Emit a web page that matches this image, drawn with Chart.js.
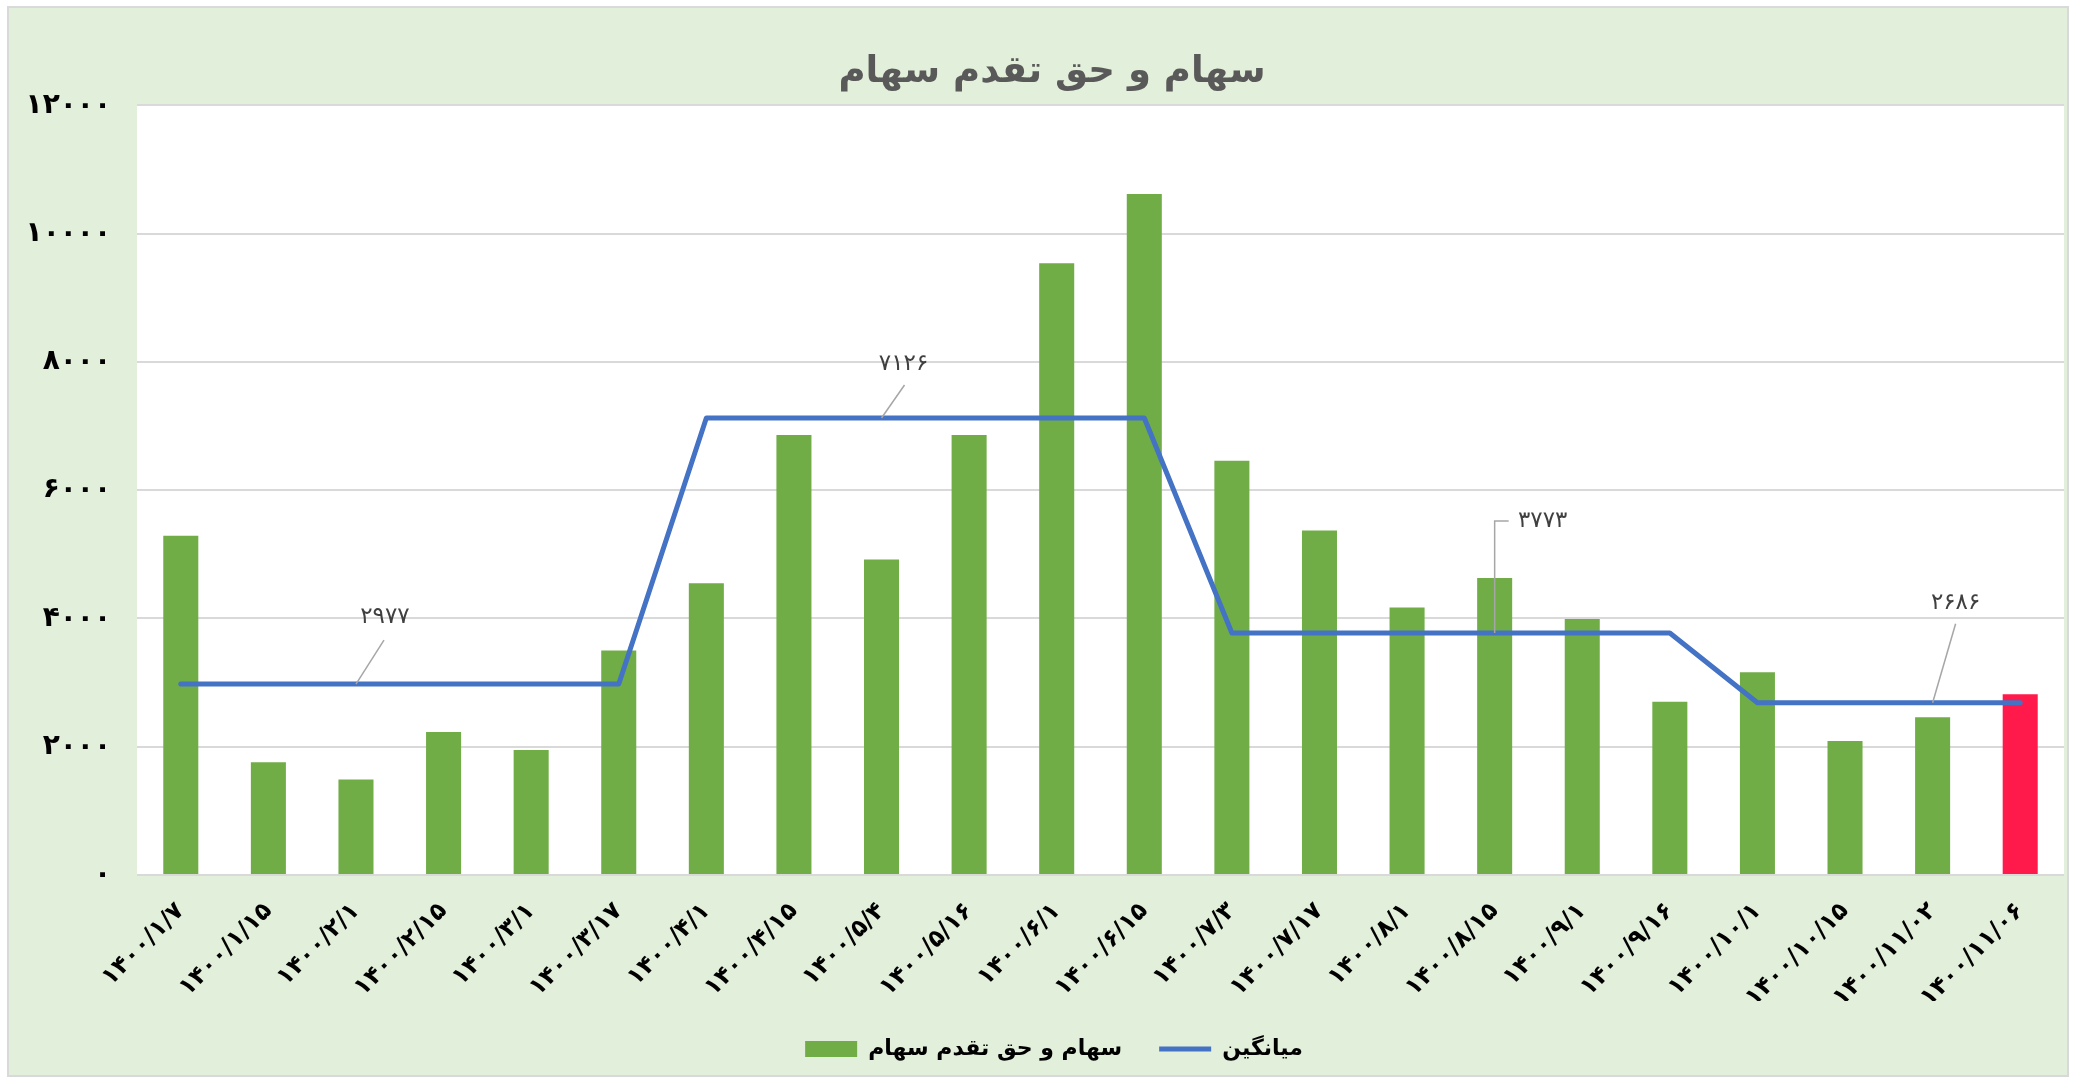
<!DOCTYPE html>
<html>
<head>
<meta charset="utf-8">
<script src="https://cdn.jsdelivr.net/npm/chart.js@4.4.1/dist/chart.umd.min.js"></script>
<style>
    html, body { margin: 0; padding: 0; background: #ffffff; }
</style>
</head>
<body>
<canvas id="saham_chart" width="2074" height="1081"></canvas>
<script>
// -------------------
// DATA
// -------------------
var dateLabels = [
    '۱۴۰۰/۱/۷', '۱۴۰۰/۱/۱۵', '۱۴۰۰/۲/۱', '۱۴۰۰/۲/۱۵', '۱۴۰۰/۳/۱', '۱۴۰۰/۳/۱۷',
    '۱۴۰۰/۴/۱', '۱۴۰۰/۴/۱۵', '۱۴۰۰/۵/۴', '۱۴۰۰/۵/۱۶', '۱۴۰۰/۶/۱', '۱۴۰۰/۶/۱۵',
    '۱۴۰۰/۷/۳', '۱۴۰۰/۷/۱۷', '۱۴۰۰/۸/۱', '۱۴۰۰/۸/۱۵', '۱۴۰۰/۹/۱', '۱۴۰۰/۹/۱۶',
    '۱۴۰۰/۱۰/۱', '۱۴۰۰/۱۰/۱۵', '۱۴۰۰/۱۱/۰۲', '۱۴۰۰/۱۱/۰۶'
];
var sahamValues = [
    5290, 1760, 1490, 2230, 1950, 3500,
    4550, 6860, 4920, 6860, 9540, 10620,
    6460, 5370, 4170, 4630, 3990, 2700,
    3160, 2090, 2460, 2820
];
var averageValues = [
    2977, 2977, 2977, 2977, 2977, 2977,
    7126, 7126, 7126, 7126, 7126, 7126,
    3773, 3773, 3773, 3773, 3773, 3773,
    2686, 2686, 2686, 2686
];
var yMin = 0;
var yMax = 12000;
var yStep = 2000;

// indices of the average line that carry a value label
var labelledPoints = [2, 8, 15, 20];

// -------------------
// COLORS
// -------------------
const colors = {
    green: '#70AD47',
    red: '#FF1A4B',
    blue: '#4472C4',
    panel: '#E2EFDA',
    border: '#D9D9D9',
    grid: '#D9D9D9',
    title: '#595959',
    note: '#404040',
    leader: '#A6A6A6',
};

function toPersianDigits(value) {
    return String(value).replace(/\d/g, function (d) { return '۰۱۲۳۴۵۶۷۸۹'[d]; });
}

// last bar is highlighted
var barColors = sahamValues.map(function (v, i) {
    return i === sahamValues.length - 1 ? colors.red : colors.green;
});

// -------------------
// PLUGINS
// -------------------
const panelBackground = {
    id: 'panelBackground',
    afterLayout: function (chart) {
        // title and legend sit a little right of the canvas centre
        chart.titleBlock.left += 40;
        chart.legend.left += 44;
    },
    beforeDraw: function (chart) {
        var c = chart.ctx;
        var area = chart.chartArea;
        c.save();
        c.fillStyle = '#ffffff';
        c.fillRect(0, 0, chart.width, chart.height);
        c.fillStyle = colors.panel;
        c.fillRect(8, 7, chart.width - 14, chart.height - 12);
        c.strokeStyle = colors.border;
        c.lineWidth = 2;
        c.strokeRect(8, 7, chart.width - 14, chart.height - 12);
        c.fillStyle = '#ffffff';
        c.fillRect(area.left, area.top, area.right - area.left, area.bottom - area.top);
        c.restore();
    }
};

// value labels with leader lines, offsets relative to the point
const noteLayout = {
    2: { leader: [[28, -44]], text: [29, -67] },
    8: { leader: [[23, -33]], text: [22, -54] },
    15: { leader: [[0, -112], [14, -112]], text: [48, -112] },
    20: { leader: [[23, -79]], text: [23, -100] },
};

const averageNotes = {
    id: 'averageNotes',
    afterDatasetsDraw: function (chart) {
        var c = chart.ctx;
        var meta = chart.getDatasetMeta(1);
        c.save();
        labelledPoints.forEach(function (idx) {
            var pt = meta.data[idx];
            var lay = noteLayout[idx];
            c.strokeStyle = colors.leader;
            c.lineWidth = 1.5;
            c.beginPath();
            c.moveTo(pt.x, pt.y);
            lay.leader.forEach(function (p) {
                c.lineTo(pt.x + p[0], pt.y + p[1]);
            });
            c.stroke();
            c.fillStyle = colors.note;
            c.font = '23px "DejaVu Sans"';
            c.textAlign = 'center';
            c.textBaseline = 'middle';
            c.fillText(toPersianDigits(averageValues[idx]), pt.x + lay.text[0], pt.y + lay.text[1]);
        });
        c.restore();
    }
};

// -------------------
// CHART
// -------------------
var ctx = document.getElementById('saham_chart').getContext('2d');

var myChart = new Chart(ctx, {
    type: 'bar',
    data: {
        labels: dateLabels,
        datasets: [
            {
                label: 'سهام و حق تقدم سهام',
                data: sahamValues,
                backgroundColor: barColors,
                borderWidth: 0,
                categoryPercentage: 1,
                barPercentage: 0.4,
                pointStyle: 'rect',
                order: 1,
            },
            {
                type: 'line',
                label: 'میانگین',
                data: averageValues,
                borderColor: colors.blue,
                backgroundColor: colors.blue,
                borderWidth: 5,
                borderCapStyle: 'round',
                borderJoinStyle: 'round',
                tension: 0,
                pointRadius: 0,
                pointHoverRadius: 0,
                pointStyle: 'line',
                order: 0,
            }
        ]
    },
    options: {
        responsive: false,
        animation: false,
        layout: {
            padding: { left: 0, right: 10, top: 0, bottom: 11 },
        },
        plugins: {
            title: {
                display: true,
                text: 'سهام و حق تقدم سهام',
                color: colors.title,
                font: { family: '"DejaVu Sans"', size: 37, weight: 'bold', lineHeight: 1.2 },
                padding: { top: 50, bottom: 11 },
            },
            legend: {
                display: true,
                position: 'bottom',
                maxHeight: 70,
                labels: {
                    usePointStyle: true,
                    pointStyleWidth: 52,
                    boxHeight: 16,
                    padding: 37,
                    color: '#000000',
                    font: { family: '"DejaVu Sans"', size: 22, weight: 'bold' },
                    sort: function (a, b) { return a.datasetIndex - b.datasetIndex; },
                },
            },
            tooltip: { enabled: false },
        },
        scales: {
            x: {
                grid: { display: false, drawTicks: false },
                border: { display: false },
                ticks: {
                    autoSkip: false,
                    maxRotation: 45,
                    minRotation: 45,
                    padding: 22,
                    color: '#000000',
                    font: { family: '"DejaVu Sans"', size: 24, weight: 'bold' },
                },
                afterFit: function (scale) { scale.height = 126; },
            },
            y: {
                min: yMin,
                max: yMax,
                grid: { color: colors.grid, lineWidth: 2, drawTicks: false },
                border: { display: false },
                ticks: {
                    stepSize: yStep,
                    padding: 26,
                    color: '#000000',
                    font: { family: '"DejaVu Sans"', size: 28, weight: 'bold' },
                    callback: function (value) { return toPersianDigits(value); },
                },
                afterFit: function (scale) { scale.width = 137; },
            }
        }
    },
    plugins: [panelBackground, averageNotes],
});
</script>
</body>
</html>
